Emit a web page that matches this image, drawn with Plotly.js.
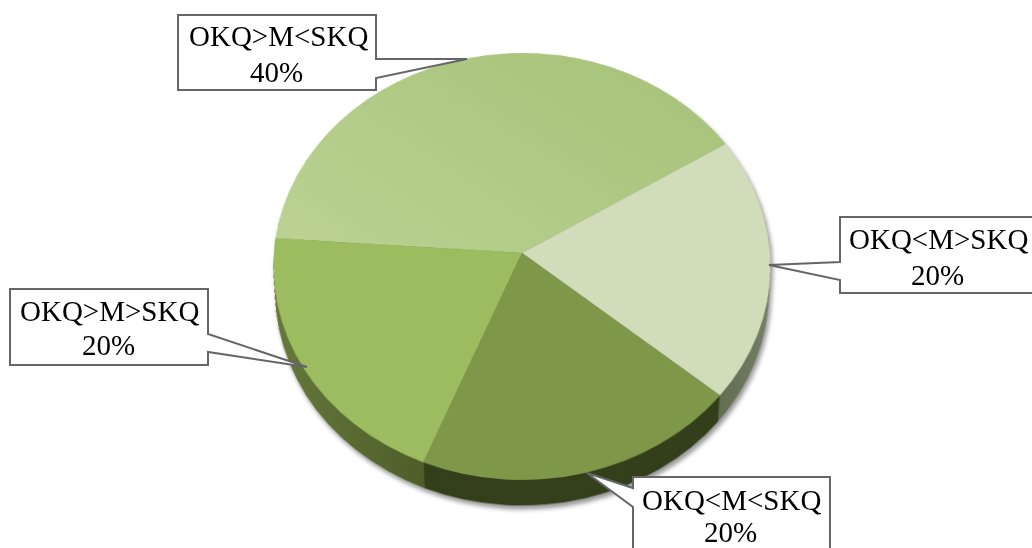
<!DOCTYPE html>
<html>
<head>
<meta charset="utf-8">
<script src="https://cdn.plot.ly/plotly-3.0.1.min.js"></script>
<style>
html,body{margin:0;padding:0;width:1032px;height:548px;overflow:hidden;background:#fff}
#pie{position:absolute;left:172px;top:-97px;width:700px;height:700px;
 transform-origin:350px 350px;transform:perspective(2027px) rotateX(31deg);
 filter:drop-shadow(2px 4px 2px rgba(0,0,0,.4))}
#labels{position:absolute;left:0;top:0;width:1032px;height:548px;pointer-events:none}
</style>
</head>
<body>
<div id="pie"></div>
<div id="labels"></div>
<script>
var categories = ['OKQ>M<SKQ', 'OKQ<M>SKQ', 'OKQ<M<SKQ', 'OKQ>M>SKQ'];
var shares = [40, 20, 20, 20];
var shareLabels = ['40%', '20%', '20%', '20%'];
var faceColors = ['#b1ca85', '#d1dcba', '#7f9748', '#9dbb5f'];
var rimColors = ['#6f8a3e', '#5b6650', '#343f1b', '#54662c'];
var startAngle = 274;

var R = 248, S = 700, rimDepth = 26;
function pieTrace(depth, colors) {
  var r = R - depth * 0.14;
  var cy = S / 2 + depth * 1.14;
  return {
    type: 'pie', labels: categories, values: shares, sort: false,
    direction: 'clockwise', rotation: startAngle, textinfo: 'none',
    hoverinfo: 'skip', showlegend: false,
    marker: {colors: colors, line: {width: 0}},
    domain: {x: [(S / 2 - r) / S, (S / 2 + r) / S], y: [1 - (cy + r) / S, 1 - (cy - r) / S]}
  };
}
var traces = [];
for (var d = rimDepth; d > 0; d -= 1.5) traces.push(pieTrace(d, rimColors));
traces.push(pieTrace(0, faceColors));

function grad(svg, id, x1, y1, x2, y2, c1, c2) {
  var ns = 'http://www.w3.org/2000/svg';
  var g = document.createElementNS(ns, 'linearGradient');
  g.setAttribute('id', id);
  g.setAttribute('x1', x1); g.setAttribute('y1', y1);
  g.setAttribute('x2', x2); g.setAttribute('y2', y2);
  [[0, c1], [1, c2]].forEach(function (s) {
    var st = document.createElementNS(ns, 'stop');
    st.setAttribute('offset', s[0]); st.setAttribute('stop-color', s[1]);
    g.appendChild(st);
  });
  svg.querySelector('defs').appendChild(g);
}

Plotly.newPlot('pie', traces, {
  width: S, height: S, margin: {l: 0, r: 0, t: 0, b: 0},
  paper_bgcolor: 'rgba(0,0,0,0)', plot_bgcolor: 'rgba(0,0,0,0)'
}, {staticPlot: true, displayModeBar: false}).then(function (gd) {
  var svg = gd.querySelector('svg.main-svg');
  grad(svg, 'faceBig', 0, 1, 1, 0.3, '#bbd293', '#a8c37b');
  grad(svg, 'rimLeft', 0, 0, 1, 0, '#66793a', '#414e20');
  grad(svg, 'rimRight', 0, 0.6, 1, 0.4, '#38431f', '#78846c');
  var tr = gd.querySelectorAll('.pielayer .trace');
  tr.forEach(function (t, i) {
    var p = t.querySelectorAll('path.surface');
    if (i === tr.length - 1) {
      p[0].style.fill = 'url(#faceBig)';
    } else {
      p[1].style.fill = 'url(#rimRight)';
      p[3].style.fill = 'url(#rimLeft)';
    }
  });
});

var W = 1032, H = 548;
var nameCenters = [[278, 36], [938, 239], [731, 500], [109, 311]];
var shareCenters = [[276, 72], [937, 275], [730, 532], [108, 345]];
var calloutOutlines = [
  [[178, 15], [376, 15], [376, 59], [467, 59], [376, 78], [376, 90], [178, 90]],
  [[840, 217], [1040, 217], [1040, 293], [840, 293], [840, 280], [769, 265], [840, 262]],
  [[633, 477], [830, 477], [830, 560], [633, 560], [633, 507], [587, 473], [633, 488]],
  [[10, 289], [208, 289], [208, 334], [307, 367], [208, 352], [208, 365], [10, 365]]
];
var shapes = calloutOutlines.map(function (o) {
  return {
    type: 'path', xref: 'paper', yref: 'paper', layer: 'above',
    fillcolor: '#ffffff', line: {color: '#666666', width: 2},
    path: o.map(function (p, i) {
      return (i ? 'L' : 'M') + (p[0] / W) + ',' + (1 - p[1] / H);
    }).join(' ') + ' Z'
  };
});
function label(t, c) {
  return {
    xref: 'paper', yref: 'paper', x: c[0] / W, y: 1 - c[1] / H,
    xanchor: 'center', yanchor: 'middle', showarrow: false, align: 'center', text: t,
    font: {family: '"Liberation Serif", serif', size: 29, color: '#000'}
  };
}
var annotations = categories.map(function (t, i) { return label(t, nameCenters[i]); })
  .concat(shareLabels.map(function (t, i) { return label(t, shareCenters[i]); }));
Plotly.newPlot('labels', [], {
  width: W, height: H, margin: {l: 0, r: 0, t: 0, b: 0},
  paper_bgcolor: 'rgba(0,0,0,0)', plot_bgcolor: 'rgba(0,0,0,0)',
  xaxis: {visible: false}, yaxis: {visible: false},
  shapes: shapes, annotations: annotations
}, {staticPlot: true, displayModeBar: false});
</script>
</body>
</html>
